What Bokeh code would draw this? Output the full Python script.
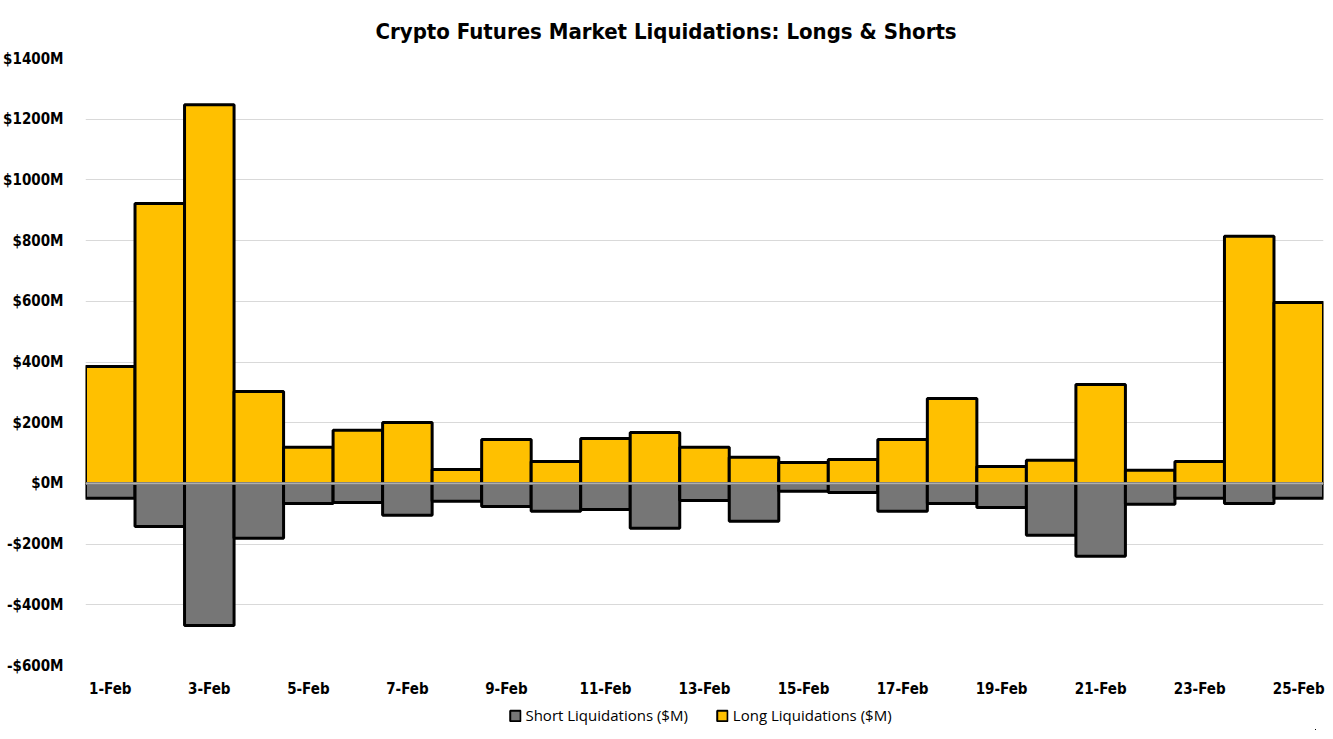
from bokeh.plotting import figure
from bokeh.layouts import column
from bokeh.models import FixedTicker, Legend, LegendItem, Span, ColumnDataSource, Title
from bokeh.embed import file_html
from bokeh.resources import INLINE

days = [f"{d}-Feb" for d in range(1, 26)]
long_liq = [385, 922, 1248, 303, 119, 175, 201, 46, 145, 72, 148, 168, 119, 86, 69, 79,
            145, 280, 56, 76, 326, 43, 72, 814, 596]
short_liq = [-49, -142, -468, -181, -66, -63, -105, -59, -76, -92, -86, -148, -56, -125,
             -26, -30, -92, -66, -79, -171, -240, -69, -49, -66, -49]
y_ticks = [-600, -400, -200, 0, 200, 400, 600, 800, 1000, 1200, 1400]
series_names = ["Short Liquidations ($M)", "Long Liquidations ($M)"]
series_colors = ["#767676", "#FFC000"]

FONT = "DejaVu Sans Condensed"

idx = list(range(len(days)))
src = ColumnDataSource(dict(x=idx, long=long_liq, short=short_liq, zero=[0] * len(days)))

p = figure(frame_width=1238, frame_height=607, output_backend="svg", toolbar_location=None,
           x_range=(-0.5, len(days) - 0.5), y_range=(-600, 1400),
           min_border_left=77, min_border_right=2, min_border_top=58, min_border_bottom=34)

p.title = Title(text="Crypto Futures Market Liquidations: Longs & Shorts", align="left",
                text_font=FONT, text_font_style="bold", text_font_size="22px",
                text_color="black", offset=290, standoff=30)

p.ygrid.grid_line_color = "#d9d9d9"
p.ygrid.grid_line_width = 1
p.xgrid.grid_line_color = None
p.outline_line_color = None

p.vbar(x="x", top="zero", bottom="short", width=1.0, source=src,
       fill_color=series_colors[0], line_color="black", line_width=3)
p.vbar(x="x", top="long", bottom="zero", width=1.0, source=src,
       fill_color=series_colors[1], line_color="black", line_width=3)

p.add_layout(Span(location=0, dimension="width", line_color="white", line_width=2))
p.add_layout(Span(location=0, dimension="width", line_color="#a6a6a6", line_width=1))

p.yaxis.ticker = FixedTicker(ticks=y_ticks)
p.yaxis.major_label_overrides = {t: (f"${t}M" if t >= 0 else f"-${-t}M") for t in y_ticks}
p.yaxis.axis_line_color = None
p.yaxis.major_tick_line_color = None
p.yaxis.minor_tick_line_color = None
p.yaxis.major_label_text_font = FONT
p.yaxis.major_label_text_font_style = "bold"
p.yaxis.major_label_text_font_size = "15px"
p.yaxis.major_label_text_color = "black"
p.yaxis.major_label_standoff = 16

xt = list(range(0, len(days), 2))
p.xaxis.ticker = FixedTicker(ticks=xt)
p.xaxis.major_label_overrides = {i: days[i] for i in xt}
p.xaxis.axis_line_color = None
p.xaxis.major_tick_line_color = None
p.xaxis.minor_tick_line_color = None
p.xaxis.major_label_text_font = FONT
p.xaxis.major_label_text_font_style = "bold"
p.xaxis.major_label_text_font_size = "15px"
p.xaxis.major_label_text_color = "black"
p.xaxis.major_label_standoff = 8

# legend strip below the chart (its glyph renderers share the data but sit outside its view)
lf = figure(width=1317, height=30, output_backend="svg", toolbar_location=None,
            x_range=(-100, -99), y_range=(5000, 5001), min_border=0)
lf.axis.visible = False
lf.grid.visible = False
lf.outline_line_color = None
items = []
for name, col, top, bottom in zip(series_names, series_colors, ["zero", "long"], ["short", "zero"]):
    r = lf.vbar(x="x", top=top, bottom=bottom, width=1, source=src, fill_color=col,
                line_color="black", line_width=2)
    items.append(LegendItem(label=name, renderers=[r]))
legend = Legend(items=items, orientation="horizontal", location="center",
                label_text_font="Open Sans", label_text_font_size="15px", label_text_color="black",
                label_height=16, glyph_width=13, glyph_height=13, spacing=28, label_standoff=4,
                border_line_color=None, background_fill_alpha=0, margin=0, padding=2)
lf.add_layout(legend, "center")

layout = column(p, lf, spacing=0)
open("out.html", "w").write(file_html(layout, INLINE))
